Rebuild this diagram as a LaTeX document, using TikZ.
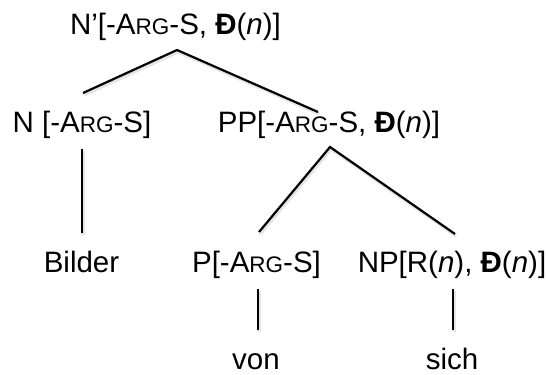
\documentclass[tikz,border=0pt]{standalone}
\usepackage{fontspec}
\setmainfont{Liberation Sans}
\newcommand{\smc}[1]{{\fontsize{22.5bp}{24bp}\selectfont #1}}
\newcommand{\Dd}{\textbf{Đ}}
\begin{document}
\begin{tikzpicture}[x=1bp,y=-1bp,
  lab/.style={anchor=base,inner sep=0pt,font=\fontsize{29.5bp}{34bp}\selectfont},
  edge/.style={line width=2.2bp,black},
  shadowline/.style={line width=3.5bp,black!10,transform canvas={xshift=1.2bp,yshift=-1.8bp}}]
\useasboundingbox (0,0) rectangle (547,374);
\node[lab] (top) at (175.5,34) {N’[-A\smc{RG}-S, \Dd(\textit{n})]};
\node[lab] (n) at (82,132) {N [-A\smc{RG}-S]};
\node[lab] (pp) at (329,132) {PP[-A\smc{RG}-S, \Dd(\textit{n})]};
\node[lab] (bilder) at (81.5,272) {Bilder};
\node[lab] (p) at (256.5,272) {P[-A\smc{RG}-S]};
\node[lab] (np) at (452,272) {NP[R(\textit{n}), \Dd(\textit{n})]};
\node[lab] (von) at (256,369) {von};
\node[lab] (sich) at (452,369) {sich};
% line ends
\coordinate (topA) at (177,50);
\coordinate (nT) at (83,93);
\coordinate (ppT) at (318,112);
\coordinate (nB) at (82,149);
\coordinate (bilderT) at (82,233);
\coordinate (ppA) at (330,147);
\coordinate (pT) at (259,232);
\coordinate (npT) at (455,234);
\coordinate (pB) at (258,289);
\coordinate (vonT) at (258,330);
\coordinate (npB) at (453,289);
\coordinate (sichT) at (453,330);
\foreach \s in {shadowline,edge}{
  \draw[\s] (nT) -- (topA) -- (ppT);
  \draw[\s] (nB) -- (bilderT);
  \draw[\s] (pT) -- (ppA) -- (npT);
  \draw[\s] (pB) -- (vonT);
  \draw[\s] (npB) -- (sichT);
}
\end{tikzpicture}
\end{document}
